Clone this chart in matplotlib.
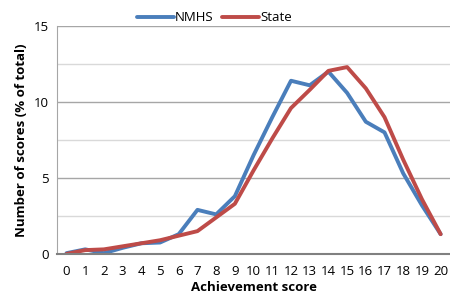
import matplotlib
matplotlib.use("Agg")
import matplotlib.pyplot as plt

scores = list(range(21))
nmhs = [0.05, 0.3, 0.05, 0.4, 0.7, 0.75, 1.3, 2.9, 2.6, 3.8, 6.5,
        9.0, 11.4, 11.1, 12.0, 10.6, 8.7, 8.0, 5.3, 3.2, 1.3]
state = [0.0, 0.25, 0.3, 0.5, 0.7, 0.9, 1.2, 1.5, 2.4, 3.3, 5.5,
         7.6, 9.6, 10.8, 12.05, 12.3, 10.9, 9.0, 6.2, 3.6, 1.3]

plt.rcParams['font.family'] = ['Open Sans', 'DejaVu Sans']

fig = plt.figure(figsize=(4.5, 3.03), dpi=100)
ax = fig.add_axes([0.127, 0.162, 0.873, 0.752])

for y in [2.5, 7.5, 12.5]:
    ax.axhline(y, color='#d9d9d9', lw=1, zorder=0)
for y in [5, 10, 15]:
    ax.axhline(y, color='#a6a6a6', lw=1, zorder=0)

ax.plot(scores, nmhs, color='#4a7ebb', lw=2.8, label='NMHS', solid_capstyle='round')
ax.plot(scores, state, color='#be4b48', lw=2.8, label='State', solid_capstyle='round')

ax.set_xlim(-0.5, 20.5)
ax.set_ylim(0, 15)
ax.set_xticks(scores)
ax.set_yticks([0, 5, 10, 15])
ax.tick_params(axis='both', length=0, labelsize=9.5, colors='black')
ax.tick_params(axis='x', pad=8)
ax.tick_params(axis='y', pad=6)
for s in ['top', 'right']:
    ax.spines[s].set_visible(False)
ax.spines['left'].set_color('#a6a6a6')
ax.spines['bottom'].set_color('#808080')
ax.spines['bottom'].set_linewidth(1.5)

ax.set_xlabel('Achievement score', fontsize=9.5, fontweight='bold', labelpad=2)
ax.set_ylabel('Number of scores (% of total)', fontsize=9.5, fontweight='bold', labelpad=4)

ax.legend(loc='lower center', bbox_to_anchor=(0.4, 0.985), ncol=2, frameon=False,
          fontsize=9.5, handlelength=2.8, columnspacing=0.6, handletextpad=0.1,
          borderaxespad=0)

fig.savefig('out.png', dpi=100)
